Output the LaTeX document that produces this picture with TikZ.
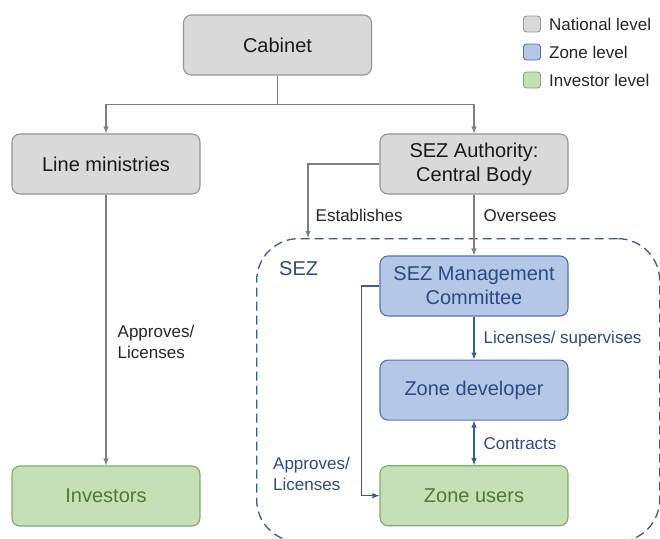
\documentclass[tikz,border=0pt]{standalone}
\usepackage{fontspec}
\setmainfont{Liberation Sans}
\usepackage{tikz}
\usetikzlibrary{arrows,shapes,positioning}
\definecolor{NatFill}{HTML}{D9D9D9}
\definecolor{NatLine}{HTML}{959595}
\definecolor{ZoneFill}{HTML}{B4C7E7}
\definecolor{ZoneLine}{HTML}{5572AA}
\definecolor{ZoneText}{HTML}{2F4A80}
\definecolor{InvFill}{HTML}{C5E0B4}
\definecolor{InvLine}{HTML}{82AA6E}
\definecolor{InvText}{HTML}{4E7A38}
\definecolor{Conn}{HTML}{7F7F7F}
\definecolor{SezLine}{HTML}{3B5A8E}
\tikzset{
natcol/.style={fill=NatFill,draw=NatLine},
zonecol/.style={fill=ZoneFill,draw=ZoneLine},
invcol/.style={fill=InvFill,draw=InvLine},
box/.style={rectangle,rounded corners=8pt,line width=1.1pt,minimum width=188pt,minimum height=60pt,align=center,font=\fontsize{20}{24}\selectfont},
natbox/.style={box,natcol,text=black!90},
zonebox/.style={box,zonecol,text=ZoneText},
invbox/.style={box,invcol,text=InvText},
keybox/.style={rectangle,rounded corners=3pt,line width=0.9pt,minimum width=17pt,minimum height=16pt,inner sep=0pt},
lbl/.style={inner sep=2pt,align=left,text=black!85,font=\fontsize{17}{20.5}\selectfont},
zlbl/.style={lbl,text=ZoneText},
natline/.style={draw=Conn,line width=1.4pt},
zoneline/.style={draw=SezLine,line width=1.4pt},
sezbox/.style={rectangle,draw=SezLine,dash pattern=on 9pt off 5pt,line width=1.3pt,rounded corners=42pt,inner sep=0pt}
}

\begin{document}
\begin{tikzpicture}[x=1pt,y=1pt,>=latex]
\useasboundingbox (0,0) rectangle (660,-538);

% national level
\node[natbox] (cab) at (277.5,-45) {Cabinet};
\node[natbox] (lm) at (106,-164) {Line ministries};
\node[natbox] (auth) at (474,-164) {SEZ Authority:\\Central Body};
\node[invbox] (inv) at (106,-496) {Investors};

% zone
\node[sezbox,minimum width=403pt,minimum height=303pt,anchor=north west] (sez) at (256,-238) {};
\node[zlbl,anchor=west,font=\fontsize{20}{24}\selectfont] (sezlbl) at (277,-269) {SEZ};
\node[zonebox] (mc) at (474,-286) {SEZ Management\\Committee};
\node[zonebox,below=43pt of mc] (zd) {Zone developer};
\node[invbox,below=44.5pt of zd] (zu) {Zone users};
\coordinate (estab) at (sez.north -| 308,0);

\foreach \dst in {lm,auth}
  \draw[natline,->] (cab.south) -- ++(0,-29) -| (\dst.north);

\draw[natline,->] (lm) -- (inv) node[lbl,right=9pt,pos=0.544] (lmlbl) {Approves/\\Licenses};
\draw[natline,->] (auth.west) -| (estab) node[lbl,right=5pt,pos=0.85] (estlbl) {Establishes};
\draw[natline,->] (auth) -- (mc) node[lbl,right=7pt,pos=0.35] (ovlbl) {Oversees};

\draw[zoneline,->] (mc) -- (zd) node[zlbl,right=7pt,pos=0.52] (suplbl) {Licenses/\ supervises};
\draw[zoneline,<->] (zd) -- (zu) node[zlbl,right=7pt,pos=0.52] (conlbl) {Contracts};
\draw[zoneline,->] (mc.west) -- ++(-18,0) |- (zu.west);
\node[zlbl,anchor=west] (applbl) at (271,-474) {Approves/\\Licenses};

% legend
\foreach \sty/\txt/\yy [count=\i] in {natcol/National level/24,zonecol/Zone level/52,invcol/Investor level/80}{
  \node[keybox,\sty] (key\i) at (532,-\yy) {};
  \node[lbl,right=6pt of key\i] (keytxt\i) {\txt};
}
\end{tikzpicture}
\end{document}
